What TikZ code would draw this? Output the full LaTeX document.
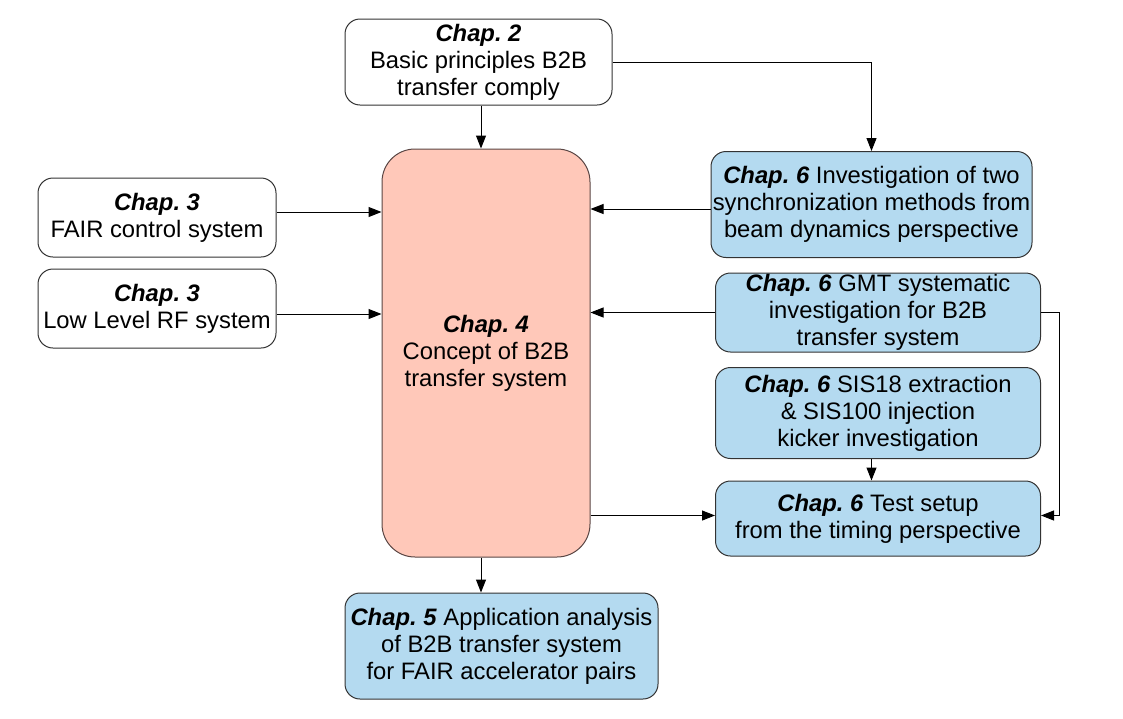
\documentclass[tikz,border=0pt]{standalone}
\usepackage{fontspec}
\setmainfont{Liberation Sans}
\usetikzlibrary{arrows.meta}
\definecolor{chapblue}{RGB}{180,218,240}
\definecolor{chapred}{RGB}{255,200,185}
\definecolor{boxline}{RGB}{51,51,51}
\newcommand{\chap}[1]{\textbf{\textit{Chap.\ #1}}}

\begin{document}
\begin{tikzpicture}[x=1pt, y=-1pt,
    box/.style={draw=boxline, line width=1pt, rounded corners=15pt, align=center,
      inner sep=0pt, font=\fontsize{23.8}{27}\selectfont},
    whitebox/.style={box, fill=white},
    bluebox/.style={box, fill=chapblue},
    arr/.style={-{Triangle[length=13pt,width=10pt]}, line width=1pt}]
    \useasboundingbox (0,0) rectangle (1123,718);

    % Central concept
    \node[box, fill=chapred, draw={rgb,255:red,90;green,70;blue,68}, rounded corners=33pt,
      minimum width=208pt, minimum height=408pt] (ch4) at (486,353)
      {\chap{4}\\Concept of B2B\\transfer system};
    \coordinate (mid) at (481,0);

    % Inputs
    \node[whitebox, minimum width=267pt, minimum height=86pt] (ch2) at (478.5,62)
      {\chap{2}\\Basic principles B2B\\transfer comply};
    \node[whitebox, minimum width=238pt, minimum height=79pt] (fair) at (157,217.5)
      {\chap{3}\\FAIR control system};
    \node[whitebox, minimum width=238pt, minimum height=79pt] (llrf) at (157,308.5)
      {\chap{3}\\Low Level RF system};

    % Chapter 6 investigations
    \node[bluebox, minimum width=321pt, minimum height=106pt] (inv) at (871.5,204.5)
      {\chap{6} Investigation of two\\synchronization methods from\\beam dynamics perspective};
    \node[bluebox, minimum width=325pt, minimum height=79pt] (gmt) at (878,312.5)
      {\chap{6} GMT systematic\\investigation for B2B\\transfer system};
    \node[bluebox, minimum width=325pt, minimum height=91pt] (sis) at (878,413)
      {\chap{6} SIS18 extraction\\\& SIS100 injection\\kicker investigation};
    \node[bluebox, minimum width=325pt, minimum height=75pt] (test) at (878,518.5)
      {\chap{6} Test setup\\from the timing perspective};

    % Application
    \node[bluebox, minimum width=313pt, minimum height=106pt] (ch5) at (501.5,646)
      {\chap{5} Application analysis\\of B2B transfer system\\for FAIR accelerator pairs};

    % Connectors
    \draw[arr] (ch2.south -| mid) -- (ch4.north -| mid);
    \draw[arr] (ch2.east) -| (inv.north);
    \draw[arr] ([yshift=5.5pt]fair.east) -- ([yshift=5.5pt]fair.east -| ch4.west);
    \draw[arr] ([yshift=-5.5pt]llrf.east) -- ([yshift=-5.5pt]llrf.east -| ch4.west);
    \draw[arr] ([yshift=-4.5pt]inv.west) -- ([yshift=-4.5pt]inv.west -| ch4.east);
    \draw[arr] (gmt.west) -- (gmt.west -| ch4.east);
    \draw[arr] (sis.south -| inv.south) -- (test.north -| inv.south);
    \draw[arr] ([yshift=3pt]test.west -| ch4.east) -- ([yshift=3pt]test.west);
    \draw[arr] (gmt.east) -- ++(18,0) |- ([yshift=3pt]test.east);
    \draw[arr] (ch4.south -| mid) -- (ch5.north -| mid);
\end{tikzpicture}
\end{document}
